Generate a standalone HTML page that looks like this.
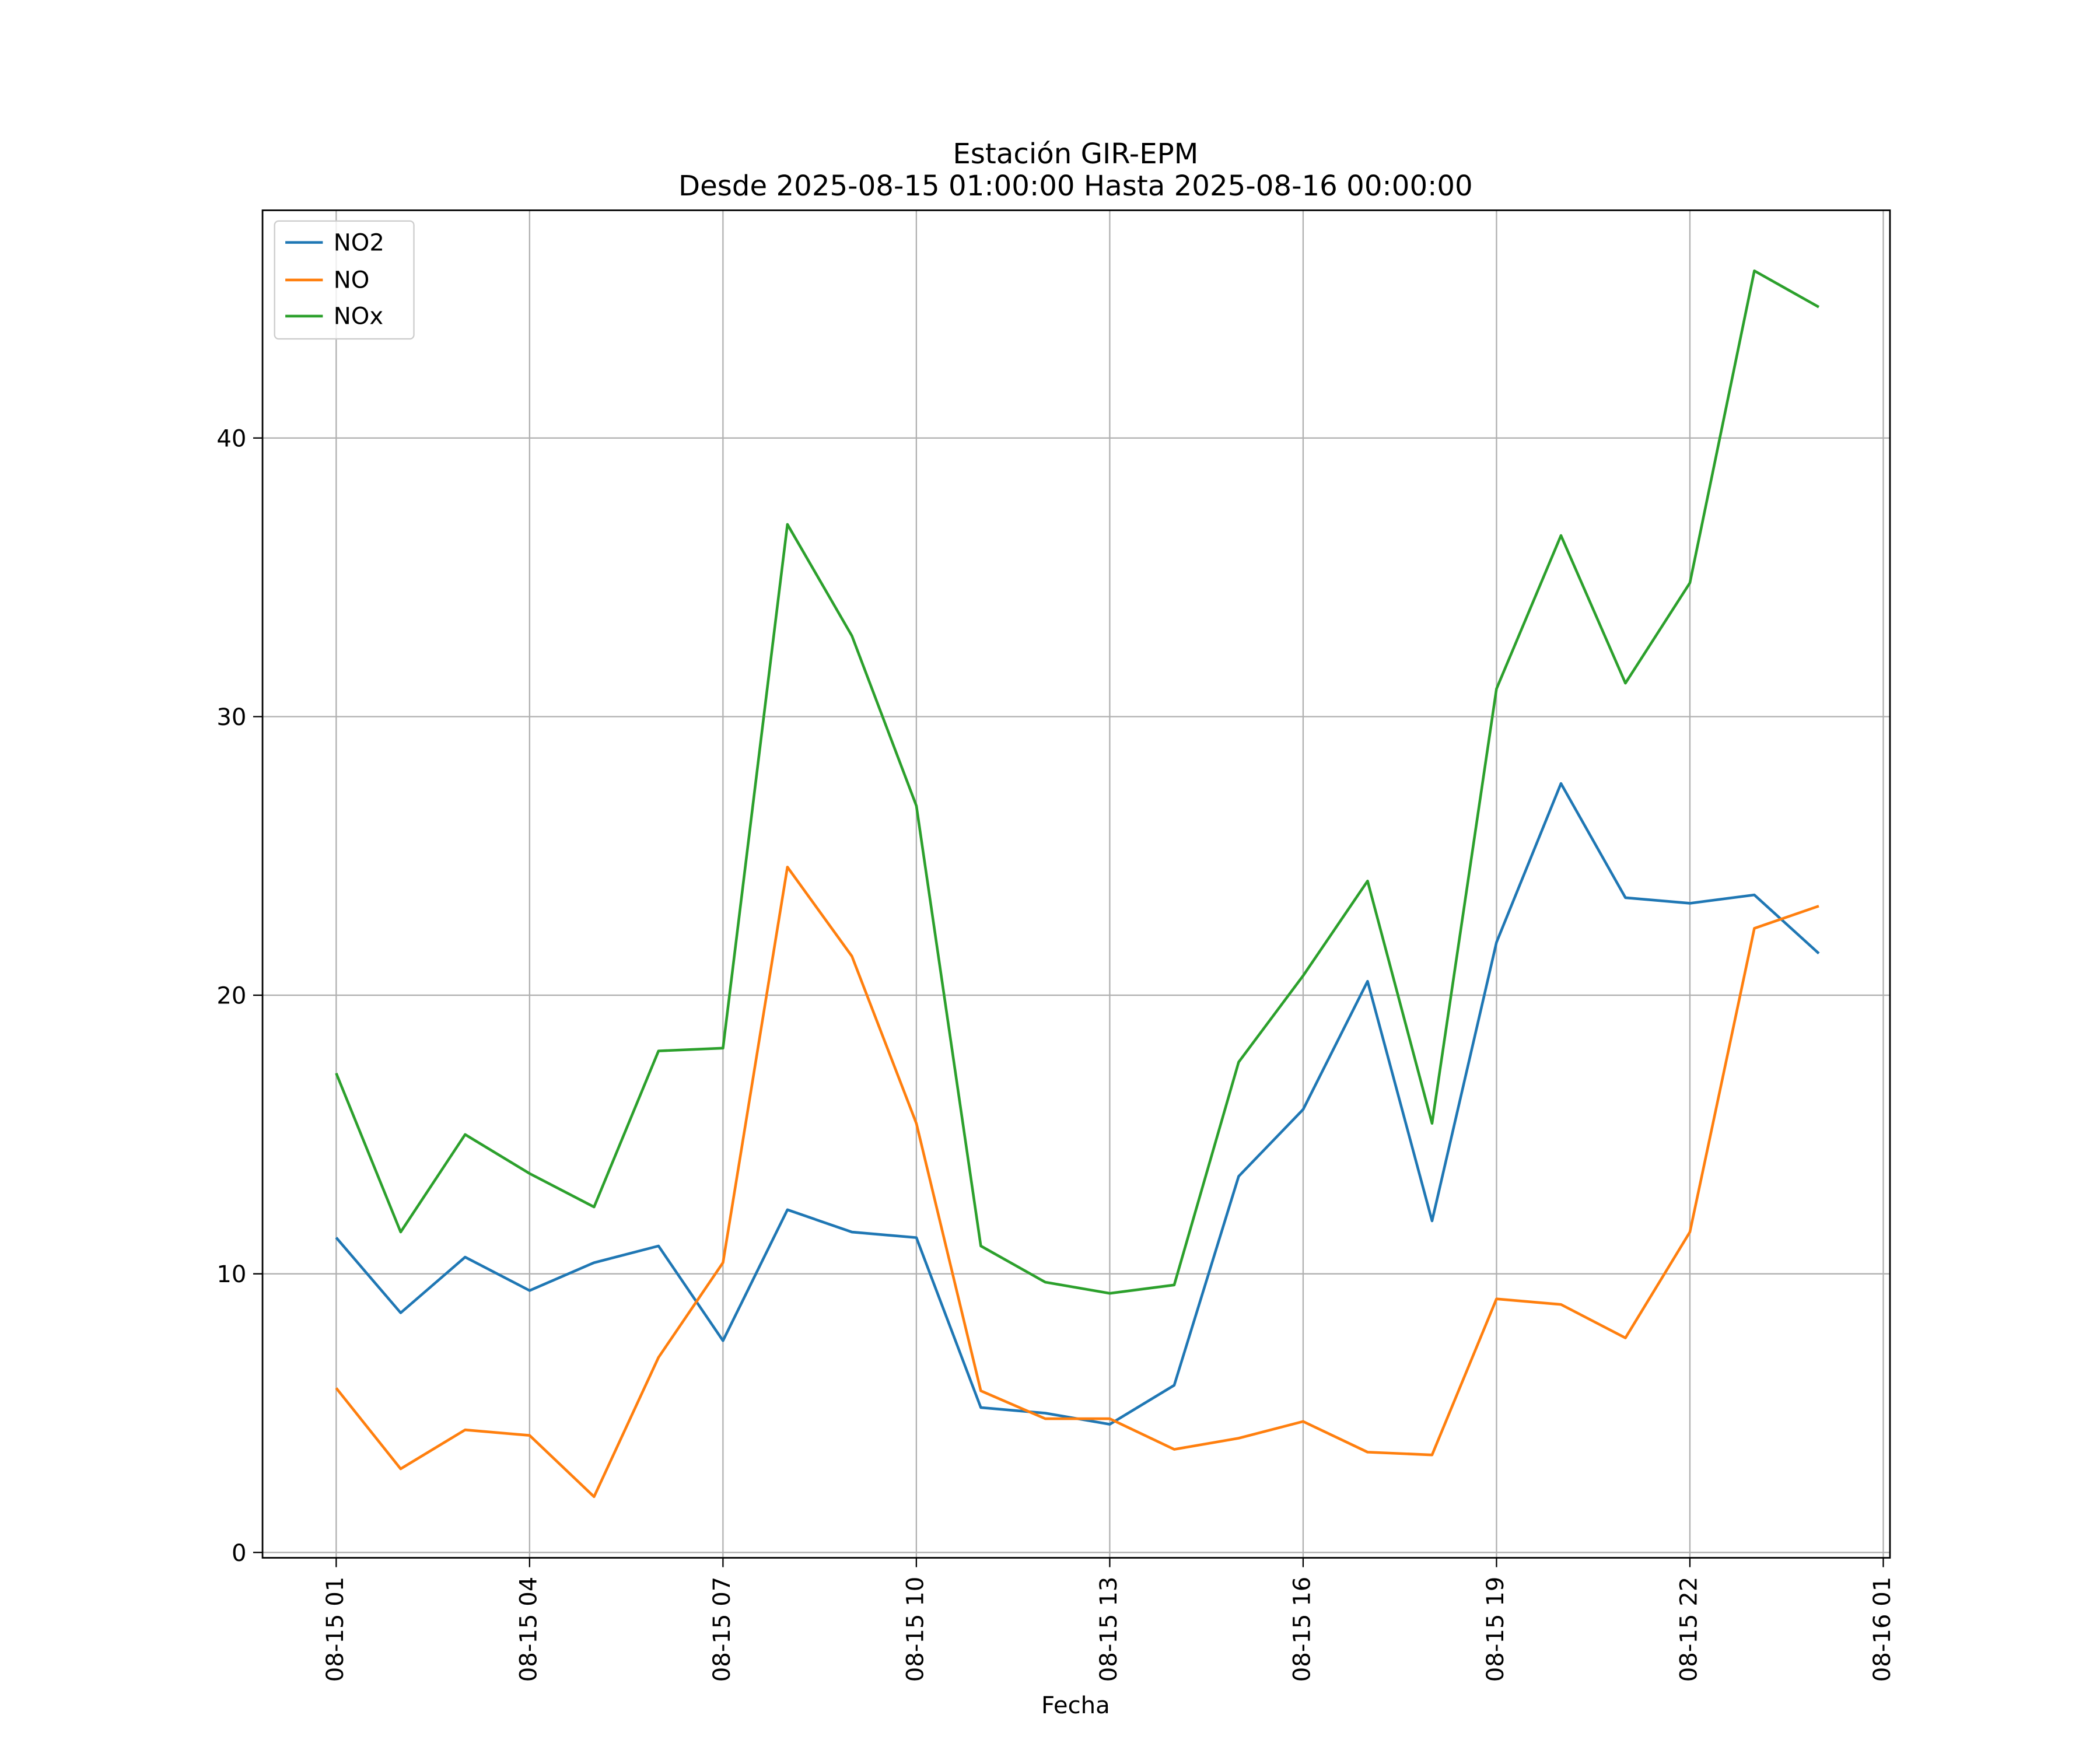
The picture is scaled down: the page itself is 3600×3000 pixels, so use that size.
<!DOCTYPE html>
<html><head><meta charset="utf-8"><style>
html,body{margin:0;padding:0;background:#fff;}
svg{display:block;font-family:"DejaVu Sans","Liberation Sans",sans-serif;}
</style></head><body>
<svg id="chart" width="3600" height="3000" viewBox="0 0 1567.8 1306.5" preserveAspectRatio="none" xmlns="http://www.w3.org/2000/svg">
<rect width="1570" height="1310" fill="#fff"/>
<text x="803" y="122" font-size="21" text-anchor="middle">Estación GIR-EPM</text>
<text x="803" y="146" font-size="21" text-anchor="middle">Desde 2025-08-15 01:00:00 Hasta 2025-08-16 00:00:00</text>
<g id="grid"></g>
<g id="series"></g>
<rect x="196" y="157" width="1215" height="1006" fill="none" stroke="#000" stroke-width="1.2"/>
<g id="ticks"></g>
<text x="803" y="1279" font-size="17.5" text-anchor="middle">Fecha</text>
<g>
<rect x="205" y="165" width="104" height="88" fill="#fff" fill-opacity="0.8" stroke="#ccc" rx="3"/>
<g><line x1="213" y1="181" x2="241" y2="181" stroke="#1f77b4" stroke-width="2"/><text x="249" y="187" font-size="17.5">NO2</text></g>
<g><line x1="213" y1="209" x2="241" y2="209" stroke="#ff7f0e" stroke-width="2"/><text x="249" y="215" font-size="17.5">NO</text></g>
<g><line x1="213" y1="236" x2="241" y2="236" stroke="#2ca02c" stroke-width="2"/><text x="249" y="242" font-size="17.5">NOx</text></g>
</g>
</svg>
<script>
const hours = [1,2,3,4,5,6,7,8,9,10,11,12,13,14,15,16,17,18,19,20,21,22,23,24];
const no2 = [11.3,8.6,10.6,9.4,10.4,11.0,7.6,12.3,11.5,11.3,5.2,5.0,4.6,6.0,13.5,15.9,20.5,11.9,21.9,27.6,23.5,23.3,23.6,21.5];
const no = [5.9,3.0,4.4,4.2,2.0,7.0,10.4,24.6,21.4,15.4,5.8,4.8,4.8,3.7,4.1,4.7,3.6,3.5,9.1,8.9,7.7,11.5,22.4,23.2];
const nox = [17.2,11.5,15.0,13.6,12.4,18.0,18.1,36.9,32.9,26.8,11.0,9.7,9.3,9.6,17.6,20.7,24.1,15.4,31.0,36.5,31.2,34.8,46.0,44.7];
const xTickHours = [1,4,7,10,13,16,19,22,25];
const xTickLabels = ["08-15 01","08-15 04","08-15 07","08-15 10","08-15 13","08-15 16","08-15 19","08-15 22","08-16 01"];
const yTicks = [0,10,20,30,40];

const NS = "http://www.w3.org/2000/svg";
function xs(h){ return 251 + (h-1)*48.125; }
function ys(v){ return 1159 - v*20.8; }
function mk(tag, attrs, parent){ const e=document.createElementNS(NS,tag); for(const k in attrs) e.setAttribute(k,attrs[k]); parent.appendChild(e); return e; }
const grid=document.getElementById('grid'), ticks=document.getElementById('ticks'), series=document.getElementById('series');
xTickHours.forEach((h,i)=>{
  const x=xs(h);
  const g=mk('line',{x1:x,x2:x,y1:157,y2:1163,stroke:'#b0b0b0','stroke-width':1},grid);
  
  
  mk('line',{x1:x,x2:x,y1:1163,y2:1170,stroke:'#000','stroke-width':1},ticks);
  const t=mk('text',{x:0,y:0,'font-size':17.5,'text-anchor':'end',transform:`translate(${x+5},1177) rotate(-90)`},ticks);
  t.textContent=xTickLabels[i];
  
  
});
yTicks.forEach(v=>{
  const y=ys(v);
  const g=mk('line',{x1:196,x2:1411,y1:y,y2:y,stroke:'#b0b0b0','stroke-width':1},grid);
  
  
  mk('line',{x1:189,x2:196,y1:y,y2:y,stroke:'#000','stroke-width':1},ticks);
  const t=mk('text',{x:184,y:y+6.3,'font-size':17.5,'text-anchor':'end'},ticks);
  t.textContent=v;
  
  
});
[[no2,'#1f77b4','line-no2'],[no,'#ff7f0e','line-no'],[nox,'#2ca02c','line-nox']].forEach(([d,c,n])=>{
  const p=mk('polyline',{points:d.map((v,i)=>xs(hours[i])+','+ys(v)).join(' '),fill:'none',stroke:c,'stroke-width':2,'stroke-linejoin':'round'},series);
  
  
});
</script>
</body></html>
